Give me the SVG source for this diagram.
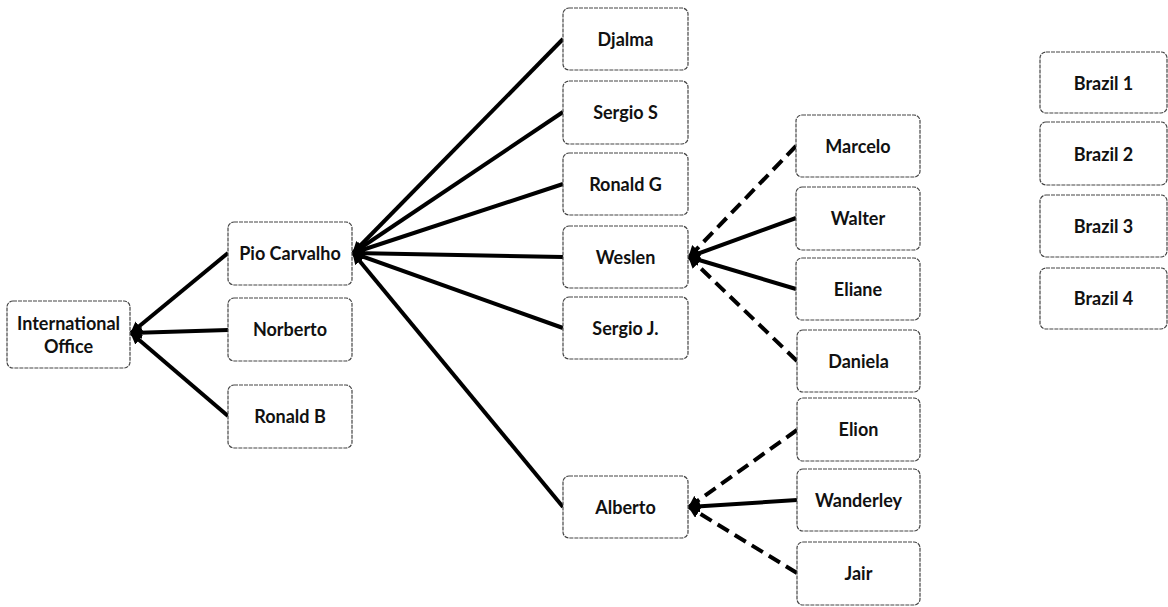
<svg xmlns="http://www.w3.org/2000/svg" width="1168" height="607" viewBox="0 0 1168 607">
<style>
.box{fill:#fff;stroke:#444;stroke-width:1.2;stroke-dasharray:4 1}
.t{font-family:Lato,"Liberation Sans",sans-serif;font-weight:700;font-size:18px;fill:#111;text-anchor:middle;dominant-baseline:central}
.c{stroke:#000;stroke-width:4;fill:none;marker-end:url(#ah)}
.d{stroke-dasharray:13 7}
</style>
<defs>
<marker id="ah" viewBox="0 0 10 10" refX="9" refY="5" markerWidth="3" markerHeight="3" orient="auto" markerUnits="strokeWidth">
<path d="M0,0 L10,5 L0,10 z" fill="#000"/>
</marker>
</defs>
<rect width="1168" height="607" fill="#fff"/>
<g id="connectors">
<line class="c" x1="228" y1="253" x2="131" y2="333"/>
<line class="c" x1="228" y1="330" x2="131" y2="333"/>
<line class="c" x1="228" y1="416" x2="131" y2="333"/>
<line class="c" x1="563" y1="39" x2="353" y2="253"/>
<line class="c" x1="563" y1="112" x2="353" y2="253"/>
<line class="c" x1="563" y1="184" x2="353" y2="253"/>
<line class="c" x1="563" y1="257" x2="353" y2="253"/>
<line class="c" x1="563" y1="328" x2="353" y2="253"/>
<line class="c" x1="563" y1="507" x2="353" y2="253"/>
<line class="c d" x1="796" y1="146" x2="689" y2="257"/>
<line class="c" x1="796" y1="218" x2="689" y2="257"/>
<line class="c" x1="796" y1="289" x2="689" y2="257"/>
<line class="c d" x1="797" y1="361" x2="689" y2="257"/>
<line class="c d" x1="797" y1="430" x2="689" y2="507"/>
<line class="c" x1="797" y1="500" x2="689" y2="507"/>
<line class="c d" x1="797" y1="573" x2="689" y2="507"/>
</g>
<g id="n-intl"><rect class="box" x="7" y="301" width="123" height="67" rx="6"/><text class="t" x="68.5" y="323">International</text><text class="t" x="68.5" y="346">Office</text></g>
<g id="n-pio"><rect class="box" x="228" y="222" width="124" height="63" rx="6"/><text class="t" x="290" y="253">Pio Carvalho</text></g>
<g id="n-norberto"><rect class="box" x="228" y="298" width="124" height="63" rx="6"/><text class="t" x="290" y="329">Norberto</text></g>
<g id="n-ronaldb"><rect class="box" x="228" y="385" width="124" height="63" rx="6"/><text class="t" x="290" y="416">Ronald B</text></g>
<g id="n-djalma"><rect class="box" x="563" y="8" width="125" height="62" rx="6"/><text class="t" x="625.5" y="39">Djalma</text></g>
<g id="n-sergios"><rect class="box" x="563" y="81" width="125" height="63" rx="6"/><text class="t" x="625.5" y="112">Sergio S</text></g>
<g id="n-ronaldg"><rect class="box" x="563" y="153" width="125" height="62" rx="6"/><text class="t" x="625.5" y="184">Ronald G</text></g>
<g id="n-weslen"><rect class="box" x="563" y="226" width="125" height="62" rx="6"/><text class="t" x="625.5" y="257">Weslen</text></g>
<g id="n-sergioj"><rect class="box" x="563" y="297" width="125" height="62" rx="6"/><text class="t" x="625.5" y="328">Sergio J.</text></g>
<g id="n-alberto"><rect class="box" x="563" y="476" width="125" height="62" rx="6"/><text class="t" x="625.5" y="507">Alberto</text></g>
<g id="n-marcelo"><rect class="box" x="796" y="115" width="124" height="62" rx="6"/><text class="t" x="858" y="146">Marcelo</text></g>
<g id="n-walter"><rect class="box" x="796" y="187" width="124" height="63" rx="6"/><text class="t" x="858" y="218">Walter</text></g>
<g id="n-eliane"><rect class="box" x="796" y="258" width="124" height="62" rx="6"/><text class="t" x="858" y="289">Eliane</text></g>
<g id="n-daniela"><rect class="box" x="797" y="330" width="123" height="62" rx="6"/><text class="t" x="858.5" y="361">Daniela</text></g>
<g id="n-elion"><rect class="box" x="797" y="398" width="123" height="63" rx="6"/><text class="t" x="858.5" y="429">Elion</text></g>
<g id="n-wanderley"><rect class="box" x="797" y="469" width="123" height="62" rx="6"/><text class="t" x="858.5" y="500">Wanderley</text></g>
<g id="n-jair"><rect class="box" x="797" y="542" width="123" height="63" rx="6"/><text class="t" x="858.5" y="573">Jair</text></g>
<g id="n-brazil1"><rect class="box" x="1040" y="52" width="127" height="61" rx="6"/><text class="t" x="1103.5" y="83">Brazil 1</text></g>
<g id="n-brazil2"><rect class="box" x="1040" y="122" width="127" height="63" rx="6"/><text class="t" x="1103.5" y="154">Brazil 2</text></g>
<g id="n-brazil3"><rect class="box" x="1040" y="195" width="127" height="62" rx="6"/><text class="t" x="1103.5" y="226">Brazil 3</text></g>
<g id="n-brazil4"><rect class="box" x="1040" y="268" width="127" height="61" rx="6"/><text class="t" x="1103.5" y="298">Brazil 4</text></g>
</svg>
